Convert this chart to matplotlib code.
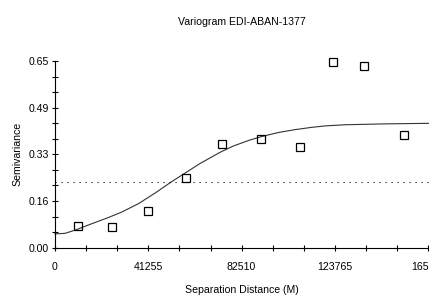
import matplotlib
matplotlib.use("Agg")
import matplotlib.pyplot as plt
from matplotlib.ticker import FixedLocator, MultipleLocator

plt.rcParams['font.family'] = ['Liberation Sans', 'DejaVu Sans']

# experimental variogram points
lag = [10040, 25070, 40990, 57920, 73980, 91220, 108330, 123060, 136630, 154450]
semivar = [0.076, 0.071, 0.128, 0.242, 0.361, 0.377, 0.352, 0.648, 0.633, 0.392]

# fitted model curve
model_x = [0, 4420, 8840, 14740, 23580, 29480, 36840, 44210, 50850, 56740,
           64110, 72960, 78850, 86220, 91380, 98750, 106120, 113490, 119390,
           128230, 145180, 165370]
model_y = [0.048, 0.050, 0.061, 0.079, 0.105, 0.124, 0.153, 0.190, 0.226, 0.256,
           0.293, 0.332, 0.354, 0.375, 0.387, 0.401, 0.411, 0.419, 0.424,
           0.428, 0.431, 0.433]

sample_var = 0.228

x_ticks = [0, 41255, 82510, 123765, 165020]
y_ticks = [0.0, 0.1625, 0.325, 0.4875, 0.65]
y_labels = ['0.00', '0.16', '0.33', '0.49', '0.65']

fig = plt.figure(figsize=(4.29, 2.95), dpi=100)
ax = fig.add_axes([55 / 429, 1 - 247.7 / 295, 374 / 429, (247.7 - 61) / 295])

ax.plot(model_x, model_y, color='#333333', lw=0.8, clip_on=False)
ax.axhline(sample_var, color='black', lw=0.8, dashes=(1, 4.4))
ax.plot(lag, semivar, 's', ms=6.2, mfc='none', mec='black', mew=0.9, clip_on=False)

ax.set_xlim(0, 165370)
ax.set_ylim(0, 0.65)
ax.xaxis.set_major_locator(FixedLocator(x_ticks))
ax.xaxis.set_minor_locator(MultipleLocator(41255 / 3))
ax.yaxis.set_major_locator(FixedLocator(y_ticks))
ax.set_yticklabels(y_labels)
ax.yaxis.set_minor_locator(MultipleLocator(0.65 / 12))

for s in ['top', 'right']:
    ax.spines[s].set_visible(False)
for s in ['left', 'bottom']:
    ax.spines[s].set_linewidth(0.8)

ax.tick_params(which='both', direction='inout', length=5, width=0.8,
               labelsize=7.6, pad=2)
ax.tick_params(axis='x', pad=8)

ax.set_title('Variogram EDI-ABAN-1377', fontsize=7.6, pad=26)
ax.set_xlabel('Separation Distance (M)', fontsize=7.6, labelpad=9)
ax.set_ylabel('Semivariance', fontsize=7.6, labelpad=4)

fig.savefig('out.png', dpi=100)
